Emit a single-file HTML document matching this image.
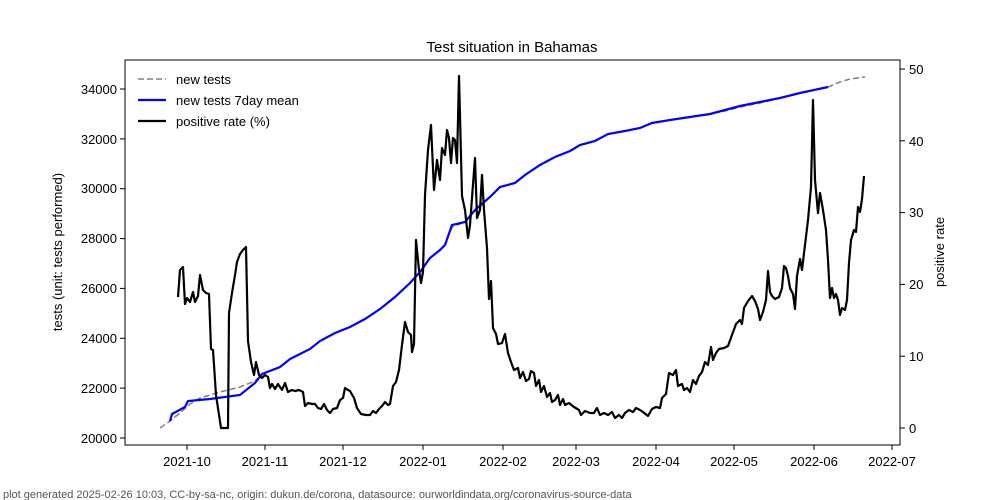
<!DOCTYPE html>
<html><head><meta charset="utf-8"><style>body{margin:0;background:#fff}svg{display:block;font-family:"Liberation Sans","DejaVu Sans",sans-serif}</style></head><body>
<svg width="1000" height="500" viewBox="0 0 1000 500" xmlns="http://www.w3.org/2000/svg">
<rect width="1000" height="500" fill="#fff"/>
<text x="512" y="52" font-size="15" text-anchor="middle">Test situation in Bahamas</text>
<g stroke="#000" fill="none">
<rect x="125" y="60" width="775" height="385" stroke-width="1"/>
</g>
<g font-size="13" text-anchor="end">
<g stroke="#000"><line x1="120" y1="438" x2="125" y2="438"/><line x1="120" y1="388.1" x2="125" y2="388.1"/><line x1="120" y1="338.3" x2="125" y2="338.3"/><line x1="120" y1="288.4" x2="125" y2="288.4"/><line x1="120" y1="238.6" x2="125" y2="238.6"/><line x1="120" y1="188.7" x2="125" y2="188.7"/><line x1="120" y1="138.9" x2="125" y2="138.9"/><line x1="120" y1="89" x2="125" y2="89"/></g>
<text x="117" y="443">20000</text><text x="117" y="393">22000</text><text x="117" y="343">24000</text><text x="117" y="293">26000</text><text x="117" y="243">28000</text><text x="117" y="193">30000</text><text x="117" y="144">32000</text><text x="117" y="94">34000</text>
</g>
<g font-size="13">
<g stroke="#000"><line x1="900" y1="428" x2="905" y2="428"/><line x1="900" y1="356.2" x2="905" y2="356.2"/><line x1="900" y1="284.4" x2="905" y2="284.4"/><line x1="900" y1="212.6" x2="905" y2="212.6"/><line x1="900" y1="140.8" x2="905" y2="140.8"/><line x1="900" y1="69" x2="905" y2="69"/></g>
<text x="909" y="433">0</text><text x="909" y="361">10</text><text x="909" y="289">20</text><text x="909" y="217">30</text><text x="909" y="146">40</text><text x="909" y="74">50</text>
</g>
<g font-size="13" text-anchor="middle">
<g stroke="#000"><line x1="187" y1="445" x2="187" y2="450"/><line x1="265" y1="445" x2="265" y2="450"/><line x1="343" y1="445" x2="343" y2="450"/><line x1="423" y1="445" x2="423" y2="450"/><line x1="503" y1="445" x2="503" y2="450"/><line x1="576" y1="445" x2="576" y2="450"/><line x1="656" y1="445" x2="656" y2="450"/><line x1="734" y1="445" x2="734" y2="450"/><line x1="814" y1="445" x2="814" y2="450"/><line x1="892" y1="445" x2="892" y2="450"/></g>
<text x="187" y="466">2021-10</text><text x="265" y="466">2021-11</text><text x="343" y="466">2021-12</text><text x="423" y="466">2022-01</text><text x="503" y="466">2022-02</text><text x="576" y="466">2022-03</text><text x="656" y="466">2022-04</text><text x="734" y="466">2022-05</text><text x="814" y="466">2022-06</text><text x="892" y="466">2022-07</text>
</g>
<text transform="translate(62,252) rotate(-90)" font-size="13" text-anchor="middle">tests (unit: tests performed)</text>
<text transform="translate(944,252) rotate(-90)" font-size="13" text-anchor="middle">positive rate</text>
<text x="3" y="498" font-size="11" fill="#555">plot generated 2025-02-26 10:03, CC-by-sa-nc, origin: dukun.de/corona, datasource: ourworldindata.org/coronavirus-source-data</text>
<polyline fill="none" stroke="#808080" stroke-width="1.5" stroke-dasharray="6,3" points="160,428 170,421 180,413 190,404 200,398 220,392 240,387 255,381 262,374 280,367 290,359 300,354 310,349 320,341 335,333 350,327 365,319 380,309 395,297 410,283 420,272 430,258 440,250 445,245 452,227 465,222 475,210 490,197 500,187 515,183 525,175 540,165 555,157 570,151 580,145 595,141 608,134 625,131 640,128 652,123 670,120 690,117 710,114 725,111 740,107 760,103 780,98 800,93 828,87 840,82 850,79 865,77"/>
<polyline fill="none" stroke="#0000ff" stroke-width="2.2" points="170,421 172,414 185,407 188,401 210,399 240,395 255,383 262,374 280,367 290,359 300,354 310,349 320,341 335,333 350,327 365,319 380,309 395,297 410,283 420,272 430,258 440,250 445,245 452,225 465,222 475,210 490,197 500,187 515,183 525,175 540,165 555,157 570,151 580,145 595,141 608,134 625,131 640,128 652,123 670,120 690,117 710,114 725,110 740,106 760,102 780,98 800,93 828,87"/>
<polyline fill="none" stroke="#000" stroke-width="2.2" stroke-linejoin="round" points="178,297 180,270 183,267 185,304 187,298 190,302 193,292 195,302 198,296 200,275 203,290 206,293 209,294 211,349 213,350 216,395 221,428 228,428 229,313 232,293 235,275 237,262 240,254 243,250 246,247 248,341 251,362 254,375 256,362 259,375 262,378 265,375 268,377 270,388 272,384 275,389 278,384 282,390 285,383 288,392 292,390 295,391 299,390 303,392 305,406 308,403 312,404 315,404 318,408 321,409 324,404 327,410 330,413 333,409 337,408 340,400 343,398 345,388 348,390 350,391 354,398 357,408 361,414 366,415 370,415 373,411 376,413 379,409 382,406 385,402 388,405 390,404 393,386 396,382 399,370 402,345 405,322 408,332 411,335 412,352 414,344 416,240 419,270 421,283 423,272 425,195 428,150 431,125 434,190 437,160 440,180 442,148 445,155 447,130 449,138 451,163 453,138 455,140 457,163 459,76 462,196 465,210 468,238 470,225 472,198 475,158 477,218 480,210 482,175 484,210 487,248 489,299 491,281 493,328 496,334 498,344 502,343 505,334 508,353 511,362 514,370 518,368 520,378 523,372 526,381 529,379 531,371 534,373 536,386 539,380 541,392 544,386 547,397 550,393 552,402 555,400 558,395 560,405 563,399 565,405 569,403 574,407 579,410 581,415 585,411 590,413 594,413 597,408 600,415 604,413 608,415 612,412 615,418 619,415 622,418 625,413 629,410 633,412 636,408 640,410 643,412 648,416 652,409 656,407 660,408 662,398 666,394 669,373 673,375 676,370 678,386 682,384 684,390 687,388 690,392 693,380 696,384 699,376 702,372 705,362 708,365 711,347 713,360 716,353 719,349 724,348 728,346 732,335 736,324 740,320 742,324 744,308 748,301 752,296 755,301 758,309 760,320 763,312 766,300 768,271 770,292 772,296 775,299 779,297 782,288 784,266 786,268 788,276 790,288 793,294 795,309 797,276 800,259 802,270 805,245 808,220 811,187 813,100 815,180 818,213 820,193 823,210 826,230 828,260 830,298 832,288 834,298 836,294 838,300 840,315 842,308 845,310 847,300 849,263 851,240 854,230 856,232 858,207 860,212 862,199 864,176"/>
<g font-size="13">
<line x1="138" y1="79" x2="166" y2="79" stroke="#808080" stroke-width="1.5" stroke-dasharray="6,3"/>
<text x="176" y="84">new tests</text>
<line x1="138" y1="100" x2="166" y2="100" stroke="#0000ff" stroke-width="2.2"/>
<text x="176" y="105">new tests 7day mean</text>
<line x1="138" y1="121" x2="166" y2="121" stroke="#000" stroke-width="2.2"/>
<text x="176" y="126">positive rate (%)</text>
</g>
</svg>
</body></html>
